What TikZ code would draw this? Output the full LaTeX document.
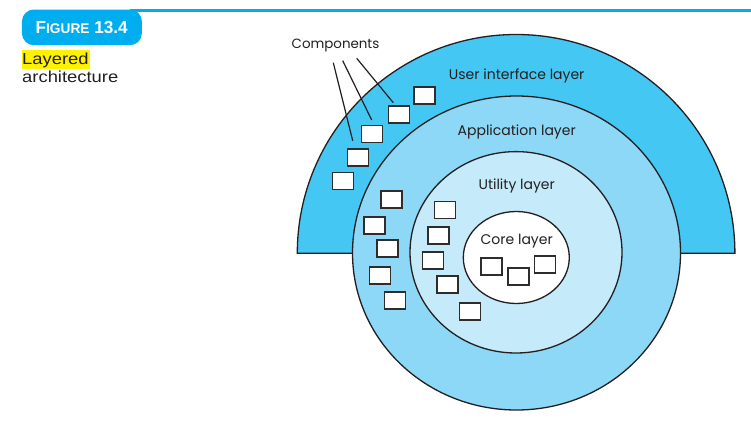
\documentclass[tikz,border=0pt]{standalone}
\usepackage{fontspec}
\setmainfont{Liberation Sans}
\setsansfont{Poppins}
\usetikzlibrary{calc}
\definecolor{uiblue}{RGB}{69,199,244}
\definecolor{appblue}{RGB}{140,216,246}
\definecolor{utilblue}{RGB}{197,234,250}
\definecolor{titlecyan}{RGB}{0,174,239}
\definecolor{hilite}{RGB}{255,242,0}
\definecolor{outline}{RGB}{35,31,32}
\definecolor{boxline}{RGB}{45,45,45}
\definecolor{labeltext}{RGB}{35,31,32}
\tikzset{
  ring/.style={draw=outline, line width=1.3pt},
  comp/.style={draw=boxline, line width=1.7pt, fill=white, minimum width=21pt, minimum height=17pt, inner sep=0pt},
  layerlabel/.style={font=\sffamily\fontsize{14}{16}\selectfont, text=labeltext, inner sep=0pt},
  pointer/.style={draw=outline, line width=1.2pt},
  captext/.style={anchor=base west, inner sep=0pt, text=labeltext},
}
\begin{document}
\begin{tikzpicture}[x=1pt,y=1pt]
\useasboundingbox (0,0) rectangle (751,-423);
% title bar
\draw[titlecyan, line width=2.4pt] (130,-10.5) -- (751,-10.5);
\node[fill=titlecyan, rounded corners=12pt, minimum width=120pt, minimum height=35.7pt, inner sep=0pt, anchor=north west] (title) at (21.7,-9.3) {};
\node[text=white, inner sep=0pt, anchor=base] (titletext) at (81.7,-33.3) {\scalebox{0.98}[1]{\bfseries\fontsize{17.5}{18}\selectfont F\fontsize{14}{14}\selectfont IGURE\fontsize{17.5}{18}\selectfont\ 13.4}};
\node[fill=hilite, inner sep=0pt, minimum height=18.3pt, minimum width=68.3pt, anchor=north west] (hl) at (21.7,-50) {};
\node[captext] (cap1) at (22,-64.5) {\scalebox{1.15}[1]{\fontsize{16}{18}\selectfont Layered}};
\node[captext] (cap2) at (22,-82.5) {\scalebox{1.15}[1]{\fontsize{16}{18}\selectfont architecture}};
% layers
\fill[uiblue] (297.3,-253.3) arc[start angle=180, end angle=0, radius=218.8] -- cycle;
\draw[ring] (297.3,-253.3) arc[start angle=180, end angle=0, radius=218.8] -- cycle;
\draw[ring, fill=appblue] (516.5,-253) ellipse[x radius=164, y radius=157];
\draw[ring, fill=utilblue] (516,-252.3) ellipse[x radius=106, y radius=100.7];
\draw[ring, fill=white] (516.3,-257.5) ellipse[x radius=53, y radius=46];
% labels
\node[layerlabel] (uil) at (516.7,-76) {User interface layer};
\node[layerlabel] (appl) at (516.7,-132) {Application layer};
\node[layerlabel] (utill) at (516.7,-186) {Utility layer};
\node[layerlabel] (corel) at (516.7,-241) {Core layer};
\node[layerlabel, font=\sffamily\fontsize{13.4}{16}\selectfont] (compl) at (335.5,-45.5) {Components};
% UI layer components
\node[comp] (u1) at (424.7,-95.5) {};
\node[comp] (u2) at (399,-114.7) {};
\node[comp] (u3) at (372,-134) {};
\node[comp] (u4) at (358,-157.5) {};
\node[comp] (u5) at (343,-181) {};
% application layer components
\node[comp] (a1) at (391.7,-199.7) {};
\node[comp] (a2) at (374.3,-225.5) {};
\node[comp] (a3) at (387.7,-248.3) {};
\node[comp] (a4) at (380,-275.7) {};
\node[comp] (a5) at (395,-300.8) {};
% utility layer components
\node[comp] (t1) at (445,-210) {};
\node[comp] (t2) at (438.3,-235.5) {};
\node[comp] (t3) at (433,-260.3) {};
\node[comp] (t4) at (447.3,-284.7) {};
\node[comp] (t5) at (470,-311.7) {};
% core layer components
\node[comp] (c1) at (491.7,-266.3) {};
\node[comp] (c2) at (518.7,-276.3) {};
\node[comp] (c3) at (545,-264.7) {};
% pointers
\coordinate (p1s) at (333.3,-62.7);
\coordinate (p2s) at (342.7,-60.7);
\coordinate (p3s) at (356.7,-58.3);
\coordinate (p1e) at (352.7,-140.7);
\coordinate (p2e) at (371.7,-120);
\coordinate (p3e) at (393.3,-102.7);
\draw[pointer] (p1s) -- (p1e);
\draw[pointer] (p2s) -- (p2e);
\draw[pointer] (p3s) -- (p3e);
\end{tikzpicture}
\end{document}
